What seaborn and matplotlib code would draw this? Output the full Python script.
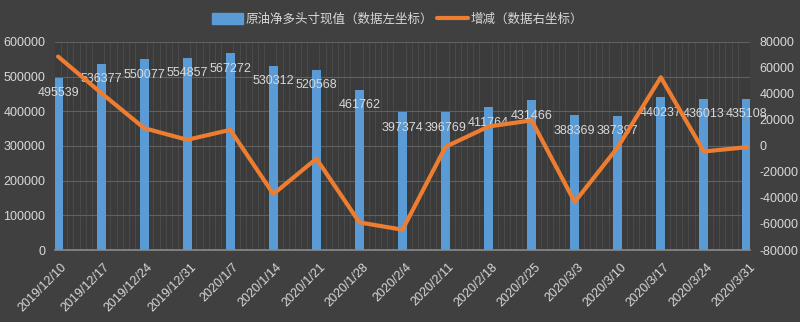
import numpy as np
import pandas as pd
import matplotlib
matplotlib.use("Agg")
import matplotlib.pyplot as plt
import matplotlib.transforms as mtransforms
from matplotlib.lines import Line2D
from matplotlib.patches import Patch
import seaborn as sns

# weekly report dates and values
dates = ["2019/12/10", "2019/12/17", "2019/12/24", "2019/12/31", "2020/1/7",
         "2020/1/14", "2020/1/21", "2020/1/28", "2020/2/4", "2020/2/11",
         "2020/2/18", "2020/2/25", "2020/3/3", "2020/3/10", "2020/3/17",
         "2020/3/24", "2020/3/31"]
net_long = [495539, 536377, 550077, 554857, 567272, 530312, 520568, 461762,
            397374, 396769, 411764, 431466, 388369, 387397, 440237, 436013,
            435108]
change = [68800, 40838, 13700, 4780, 12415, -36960, -9744, -58806, -64388,
          -605, 14995, 19702, -43097, -972, 52840, -4224, -905]

bar_label = "原油净多头寸现值（数据左坐标）"
line_label = "增减（数据右坐标）"

BG = "#404040"
TXT = "#d9d9d9"
BLUE = "#5b9bd5"
ORANGE = "#ed7d31"

sns.set_theme(style="dark")
plt.rcParams["font.family"] = ["Liberation Sans", "Noto Sans CJK SC", "DejaVu Sans"]

day0 = pd.Timestamp("2019-12-10")
days = np.array([(pd.Timestamp(d.replace("/", "-")) - day0).days for d in dates])
df = pd.DataFrame({"date": dates, "day": days, "pos": days + 0.5,
                   "net_long": net_long, "change": change})

fig = plt.figure(figsize=(8, 3.22), dpi=100, facecolor=BG)
ax = fig.add_axes([0.06875, 0.2236, 0.86875, 0.646])
ax.set_facecolor("#3b3b3b")

sns.barplot(data=df, x="pos", y="net_long", native_scale=True, width=0.21,
            color=BLUE, saturation=1, linewidth=0, ax=ax, zorder=2)

ax.set_xlim(0, 113)
ax.set_ylim(0, 600000)
ax.set_yticks(np.arange(0, 600001, 100000))
ax.set_yticklabels([f"{v:d}" for v in range(0, 600001, 100000)])
ax.set_xticks(days)
ax.set_xticklabels(dates, rotation=45, ha="right", va="center",
                   rotation_mode="anchor")
ax.set_xticks(np.arange(0, 114), minor=True)
ax.set_xlabel("")
ax.set_ylabel("")

ax.grid(False)
ax.grid(axis="y", which="major", color="#606060", linewidth=0.8, zorder=0)
ax.grid(axis="x", which="minor", color="#4a4a4a", linewidth=0.7, zorder=0)
ax.set_axisbelow(True)

for s in ["top", "left", "right"]:
    ax.spines[s].set_visible(False)
ax.spines["bottom"].set_color("#8a8a8a")
ax.spines["bottom"].set_linewidth(1.2)
ax.tick_params(axis="x", which="major", direction="out", length=4, width=1,
               color="#8a8a8a", colors=TXT, labelsize=9, pad=7)
ax.tick_params(axis="x", which="minor", length=0)
ax.tick_params(axis="y", length=0, colors=TXT, labelsize=9, pad=7)
for lab in ax.get_xticklabels():
    lab.set_transform(lab.get_transform() +
                      mtransforms.ScaledTranslation(10 / 100, 0, fig.dpi_scale_trans))

for p, v in zip(df["pos"], df["net_long"]):
    ax.annotate(f"{v}", xy=(p, v), xytext=(0, -11), textcoords="offset points",
                ha="center", va="center", color=TXT, fontsize=9, zorder=3)

ax2 = ax.twinx()
sns.lineplot(data=df, x="pos", y="change", color=ORANGE, linewidth=3,
             ax=ax2, zorder=4)
ax2.set_ylim(-80000, 80000)
ax2.set_yticks(np.arange(-80000, 80001, 20000))
ax2.set_yticklabels([f"{v:d}" for v in range(-80000, 80001, 20000)])
ax2.set_ylabel("")
ax2.set_xlabel("")
ax2.grid(False)
for s in ax2.spines.values():
    s.set_visible(False)
ax2.tick_params(axis="y", length=0, colors=TXT, labelsize=9, pad=7)

handles = [Patch(facecolor=BLUE, edgecolor=BLUE),
           Line2D([0], [0], color=ORANGE, linewidth=3)]
leg = fig.legend(handles, [bar_label, line_label], loc="center",
                 bbox_to_anchor=(0.497, 0.94), ncol=2, frameon=False,
                 handlelength=2.5, handleheight=0.9, handletextpad=0.2,
                 columnspacing=0.3,
                 prop={"family": ["Noto Sans CJK SC", "DejaVu Sans"], "size": 9})
for t in leg.get_texts():
    t.set_color(TXT)

fig.savefig("out.png", dpi=100, facecolor=BG)
